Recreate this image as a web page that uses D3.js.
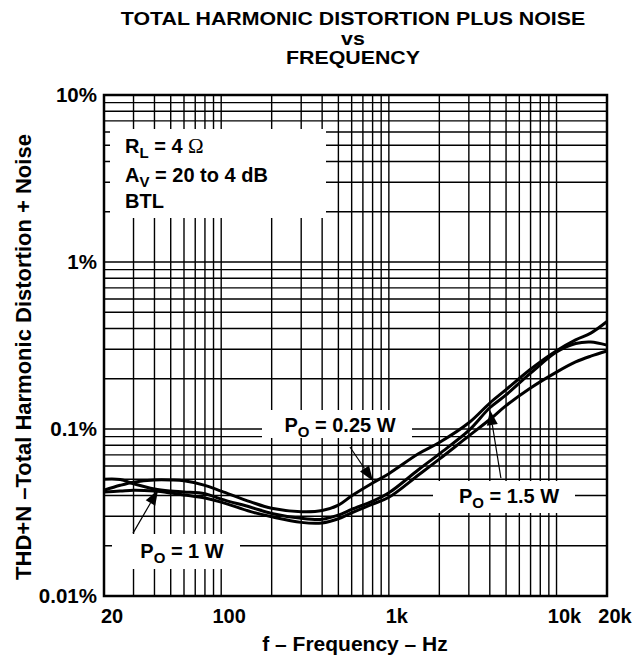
<!DOCTYPE html>
<html><head><meta charset="utf-8">
<script src="https://cdn.jsdelivr.net/npm/d3@7"></script>
<style>
html,body{margin:0;padding:0;background:#fff;}
svg text{font-family:"Liberation Sans",Arial,Helvetica,sans-serif;font-weight:bold;fill:#000;}
</style></head>
<body>
<svg id="c" width="639" height="658"></svg>
<script>
// ---- data ----
const freqs = [20,25,30,40,50,60,80,100,150,200,300,400,500,600,800,1000,1500,2000,3000,4000,5000,7000,10000,13000,16000,20000];
const p025 = [0.043,0.046,0.048,0.0495,0.0495,0.049,0.046,0.0425,0.0366,0.0335,0.032,0.0325,0.035,0.0398,0.0475,0.054,0.071,0.083,0.109,0.143,0.172,0.228,0.294,0.342,0.375,0.44];
const p1   = [0.050,0.0498,0.047,0.0437,0.0425,0.042,0.041,0.038,0.034,0.0312,0.0292,0.0288,0.0305,0.033,0.037,0.0415,0.057,0.071,0.098,0.134,0.16,0.216,0.289,0.325,0.332,0.318];
const p15  = [0.042,0.0425,0.043,0.0425,0.0414,0.0403,0.0386,0.0365,0.032,0.0298,0.0276,0.0274,0.029,0.0315,0.0355,0.039,0.053,0.066,0.091,0.114,0.138,0.176,0.219,0.252,0.273,0.293];
const xTicks = [20,100,1000,10000,20000];
const xTickLabels = ["20","100","1k","10k","20k"];
const yTicks = [10,1,0.1,0.01];
const yTickLabels = ["10%","1%","0.1%","0.01%"];
const xGrid = [30,40,50,60,70,80,90,100,200,300,400,500,600,700,800,900,1000,2000,3000,4000,5000,6000,7000,8000,9000,10000];
const yGrid = [0.02,0.03,0.04,0.05,0.06,0.07,0.08,0.09,0.1,0.2,0.3,0.4,0.5,0.6,0.7,0.8,0.9,1,2,3,4,5,6,7,8,9];
// arrows: [tail freq, tail value, tip freq, tip value]
const arrows = [[586,0.078,804,0.0489],[4658,0.0509,4008,0.130],[29.8,0.0238,42,0.0431]];

const svg = d3.select("#c");
const L=104,R=607,T=95,B=596;
const x = d3.scaleLog().domain([20,20000]).range([L,R]);
const y = d3.scaleLog().domain([0.01,10]).range([B,T]);

// title
[["TOTAL HARMONIC DISTORTION PLUS NOISE",25],["vs",44.5],["FREQUENCY",64]].forEach(d=>{
  svg.append("text").attr("transform",`translate(353,${d[1]}) scale(1.22,1)`).attr("text-anchor","middle").style("font-size","17.5px").text(d[0]);
});

// grid
const g = svg.append("g");
g.selectAll("line.v").data(xGrid).enter().append("line")
 .attr("x1",d=>x(d)).attr("x2",d=>x(d)).attr("y1",T).attr("y2",B)
 .attr("stroke","#000").attr("stroke-width",1.4);
g.selectAll("line.h").data(yGrid).enter().append("line")
 .attr("y1",d=>y(d)).attr("y2",d=>y(d)).attr("x1",L).attr("x2",R)
 .attr("stroke","#000").attr("stroke-width",1.4);

// white label boxes
const boxes = [[110,129,216,89],[262,410,150,28],[433,481,142,32],[112,534,128,35]];
svg.selectAll("rect.box").data(boxes).enter().append("rect")
 .attr("x",d=>d[0]).attr("y",d=>d[1]).attr("width",d=>d[2]).attr("height",d=>d[3]).attr("fill","#fff");

// curves
const line = d3.line().x(d=>x(d[0])).y(d=>y(d[1])).curve(d3.curveCatmullRom.alpha(0.5));
[p025,p1,p15].forEach(s=>{
  svg.append("path").datum(freqs.map((f,i)=>[f,s[i]])).attr("d",line)
   .attr("fill","none").attr("stroke","#000").attr("stroke-width",3).attr("stroke-linejoin","round");
});

// frame
svg.append("rect").attr("x",L).attr("y",T).attr("width",R-L).attr("height",B-T)
 .attr("fill","none").attr("stroke","#000").attr("stroke-width",2.5);

// arrows
arrows.forEach(a=>{
  const x0=x(a[0]),y0=y(a[1]),x1=x(a[2]),y1=y(a[3]);
  const ang=Math.atan2(y1-y0,x1-x0), hl=15, hw=5.5;
  const bx=x1-hl*Math.cos(ang), by=y1-hl*Math.sin(ang);
  svg.append("line").attr("x1",x0).attr("y1",y0).attr("x2",bx).attr("y2",by).attr("stroke","#000").attr("stroke-width",1.2);
  svg.append("polygon").attr("points",[[x1,y1],[bx+hw*Math.sin(ang),by-hw*Math.cos(ang)],[bx-hw*Math.sin(ang),by+hw*Math.cos(ang)]].map(p=>p.join(",")).join(" ")).attr("fill","#000");
});

// legend text
function sub(t, main, s, rest, omega){
  t.append("tspan").text(main);
  t.append("tspan").attr("dy",5).style("font-size","15px").text(s);
  t.append("tspan").attr("dy",-5).text(rest);
  if(omega) t.append("tspan").style("font-family","'Liberation Serif','DejaVu Serif',serif").style("font-weight","normal").style("font-size","21px").text(omega);
}
let t = svg.append("text").attr("x",125).attr("y",153).style("font-size","20px");
sub(t,"R","L"," = 4 ","\u03A9");
t = svg.append("text").attr("x",125).attr("y",182).style("font-size","20px");
sub(t,"A","V"," = 20 to 4 dB");
svg.append("text").attr("x",125).attr("y",208).style("font-size","20px").text("BTL");

t = svg.append("text").attr("x",340).attr("y",432).attr("text-anchor","middle").style("font-size","20px");
sub(t,"P","O"," = 0.25 W");
t = svg.append("text").attr("x",509).attr("y",503).attr("text-anchor","middle").style("font-size","20px");
sub(t,"P","O"," = 1.5 W");
t = svg.append("text").attr("x",182).attr("y",558).attr("text-anchor","middle").style("font-size","20px");
sub(t,"P","O"," = 1 W");

// axis tick labels
svg.selectAll("text.xt").data(xTicks).enter().append("text")
 .attr("x",d=>x(d)+8).attr("y",623).attr("text-anchor","middle").style("font-size","20px")
 .text((d,i)=>xTickLabels[i]);
svg.selectAll("text.yt").data(yTicks).enter().append("text")
 .attr("x",97).attr("y",d=>y(d)+7).attr("text-anchor","end").style("font-size","20.5px")
 .text((d,i)=>yTickLabels[i]);

// axis titles
svg.append("text").attr("x",355).attr("y",651).attr("text-anchor","middle").style("font-size","21px").text("f \u2013 Frequency \u2013 Hz");
svg.append("text").attr("transform","translate(31,357) rotate(-90)").attr("text-anchor","middle").style("font-size","22px")
 .text("THD+N \u2013Total Harmonic Distortion + Noise");
</script>
</body></html>
